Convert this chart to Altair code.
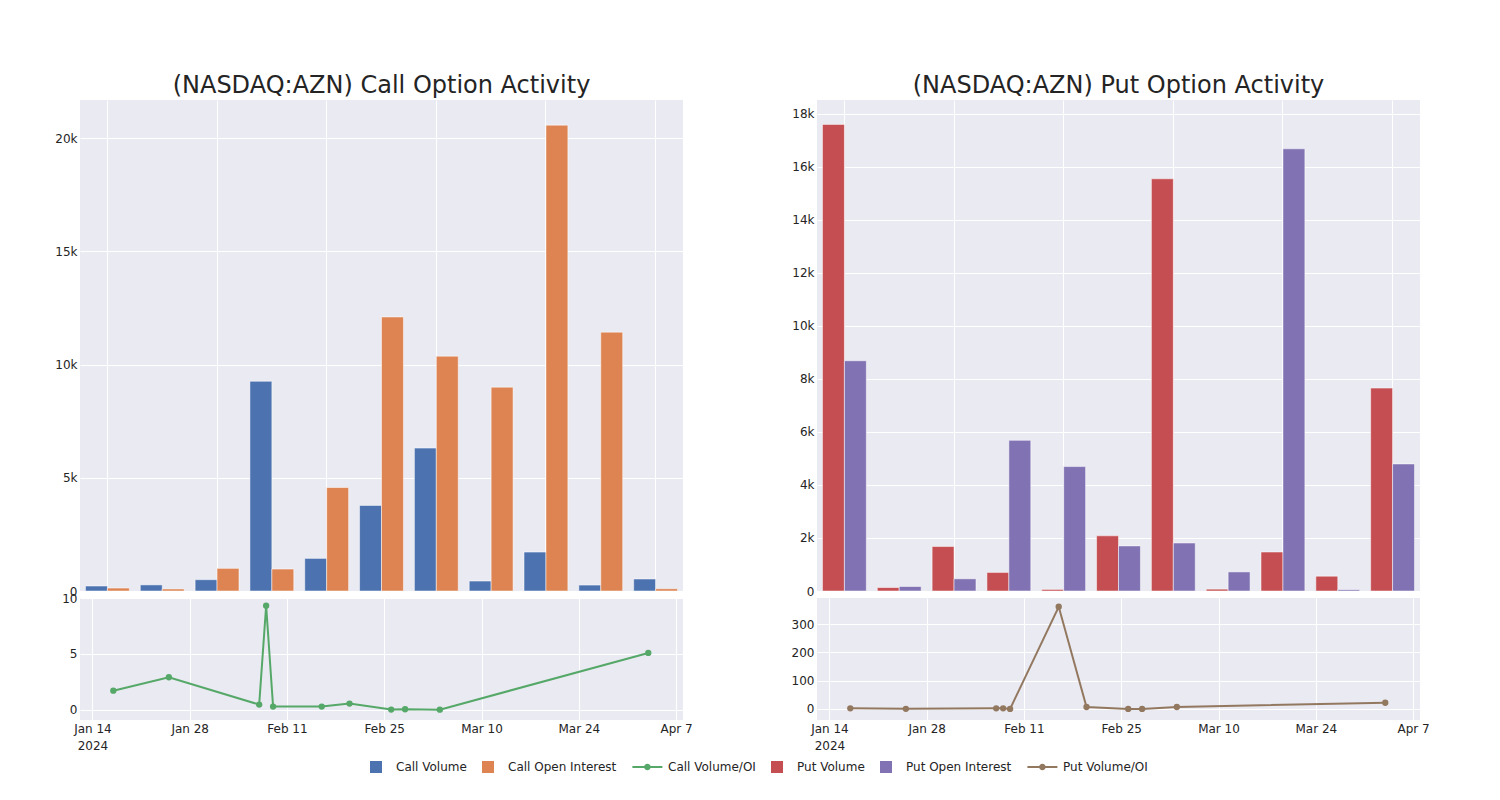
import altair as alt
import pandas as pd

# ---- data ----
dates = ["2024-01-17", "2024-01-25", "2024-02-07", "2024-02-08", "2024-02-09",
         "2024-02-16", "2024-02-20", "2024-02-26", "2024-02-28", "2024-03-04", "2024-04-03"]
call_volume = [220, 270, 500, 9260, 1440, 3780, 6310, 440, 1720, 260, 530]
call_oi = [130, 90, 1000, 970, 4570, 12100, 10370, 9000, 20570, 11430, 100]
call_ratio = [1.72, 2.92, 0.48, 9.31, 0.30, 0.30, 0.57, 0.03, 0.06, 0.02, 5.09]
put_volume = [17590, 130, 1680, 700, 60, 2080, 15540, 70, 1470, 560, 7650]
put_oi = [8680, 170, 460, 5680, 4690, 1700, 1810, 720, 16670, 50, 4790]
put_ratio = [2.3, 0.5, 2.3, 2.3, 0.2, 361, 7, 0.3, 0.3, 7, 22]

series_names = ["Call Volume", "Call Open Interest", "Call Volume/OI",
                "Put Volume", "Put Open Interest", "Put Volume/OI"]
series_colors = ["#4C72B0", "#DD8452", "#55A868", "#C44E52", "#8172B3", "#937860"]
call_ticks = [0, 5000, 10000, 15000, 20000]
put_ticks = [0, 2000, 4000, 6000, 8000, 10000, 12000, 14000, 16000, 18000]

LINE_SYMBOL = ("M-2.6,-0.17L2.4,-0.17L2.4,0.17L-2.6,0.17Z "
               "M0.45,0A0.55,0.55 0 1 1 -0.65,0A0.55,0.55 0 1 1 0.45,0Z")
series_shapes = ["square", "square", LINE_SYMBOL, "square", "square", LINE_SYMBOL]

FONT = "DejaVu Sans"
TXT = "#242424"
BG = "#EAEAF2"
color_scale = alt.Scale(domain=series_names, range=series_colors)
shape_scale = alt.Scale(domain=series_names, range=series_shapes)

date_ticks = [alt.DateTime(year=2024, month=m, date=d) for m, d in
              [(1, 14), (1, 28), (2, 11), (2, 25), (3, 10), (3, 24), (4, 7)]]
x_domain = [alt.DateTime(year=2024, month=1, date=12, hours=5),
            alt.DateTime(year=2024, month=4, date=8)]

W = 603
H_BAR = 491
H_LINE = 122
K_LABEL = "datum.value == 0 ? '0' : (datum.value / 1000) + 'k'"


def legend_def():
    return alt.Legend(orient="none", direction="horizontal", legendX=290, legendY=661,
                      title=None, symbolOpacity=1, symbolStrokeWidth=0, symbolSize=144,
                      labelOffset=14, columnPadding=15, labelFont=FONT,
                      labelFontSize=12, labelColor=TXT)


def bar_chart(names, vol, oi, ymax, yticks, title, minext, with_legend=False):
    n = len(dates)
    df = pd.DataFrame({
        "date": dates * 2,
        "series": [names[0]] * n + [names[1]] * n,
        "slot": ["a"] * n + ["b"] * n,
        "value": vol + oi,
    })
    bars = alt.Chart(df).mark_bar(stroke="white", strokeWidth=1, strokeOpacity=0.5).encode(
        x=alt.X("date:N", sort=dates,
                scale=alt.Scale(paddingInner=0.2, paddingOuter=0.1),
                axis=alt.Axis(values=dates[::2], labels=False, ticks=False, domain=False,
                              grid=True, title=None)),
        xOffset=alt.XOffset("slot:N", sort=["a", "b"],
                            scale=alt.Scale(domain=["a", "b"], paddingInner=0, paddingOuter=0)),
        y=alt.Y("value:Q", scale=alt.Scale(domain=[0, ymax], nice=False),
                axis=alt.Axis(values=yticks, labelExpr=K_LABEL, title=None, labelPadding=3,
                              minExtent=minext)),
        color=alt.Color("series:N", scale=color_scale, legend=legend_def()),
    )
    layers = [bars]
    if with_legend:
        leg_df = pd.DataFrame({"series": series_names})
        leg = alt.Chart(leg_df).mark_point(opacity=0, filled=True).encode(
            color=alt.Color("series:N", scale=color_scale, legend=legend_def()),
            shape=alt.Shape("series:N", scale=shape_scale, legend=legend_def()),
        )
        layers.append(leg)
    return alt.layer(*layers).properties(
        width=W, height=H_BAR, title=title,
        view=alt.ViewBackground(fill=BG, strokeWidth=0),
    )


def line_chart(values, color, ydomain, yticks, minext):
    df = pd.DataFrame({"date": [d + "T00:00:00" for d in dates], "value": values})
    return alt.Chart(df).mark_line(
        color=color, strokeWidth=2,
        point=alt.OverlayMarkDef(filled=True, size=40, color=color, opacity=1),
    ).encode(
        x=alt.X("date:T", scale=alt.Scale(domain=x_domain),
                axis=alt.Axis(values=date_ticks, title=None, grid=True, labelFlush=False,
                              labelOverlap=False, labelPadding=3, labelLineHeight=17,
                              labelExpr="timeFormat(datum.value, '%b %-d') == 'Jan 14' ? "
                                        "['Jan 14', '2024'] : timeFormat(datum.value, '%b %-d')")),
        y=alt.Y("value:Q", scale=alt.Scale(domain=ydomain, nice=False, zero=False),
                axis=alt.Axis(values=yticks, title=None, labelPadding=3, minExtent=minext)),
    ).properties(width=W, height=H_LINE, view=alt.ViewBackground(fill=BG, strokeWidth=0))


left = alt.vconcat(
    bar_chart(series_names[0:2], call_volume, call_oi, 21680, call_ticks,
              "(NASDAQ:AZN) Call Option Activity", 67, with_legend=True),
    line_chart(call_ratio, series_colors[2], [-0.9, 10.0], [0, 5, 10], 67),
    spacing=7, bounds="flush",
)
right = alt.vconcat(
    bar_chart(series_names[3:5], put_volume, put_oi, 18510, put_ticks,
              "(NASDAQ:AZN) Put Option Activity", 60),
    line_chart(put_ratio, series_colors[5], [-39, 392], [0, 100, 200, 300], 60),
    spacing=7, bounds="flush",
)

chart = alt.hconcat(left, right, spacing=64).properties(
    padding={"left": 5, "top": 66, "right": 5, "bottom": 5}
).configure_axis(
    labelFont=FONT, labelFontSize=12, labelColor=TXT,
    gridColor="white", gridWidth=1, domain=False, ticks=False,
).configure_view(
    fill=BG, strokeWidth=0,
).configure_title(
    font=FONT, fontSize=24, fontWeight="normal", color=TXT, anchor="middle", offset=2,
)

chart.save("out.html", embed_options={"renderer": "svg", "actions": False})
